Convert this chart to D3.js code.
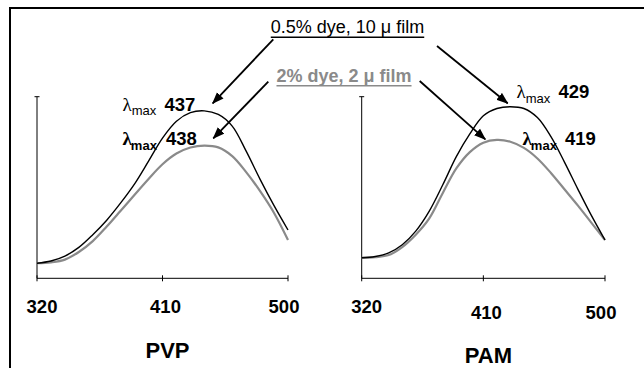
<!DOCTYPE html>
<html>
<head>
<meta charset="utf-8">
<script src="https://cdn.jsdelivr.net/npm/d3@7"></script>
<style>
  html, body { margin: 0; padding: 0; background: #fff; }
  svg { display: block; }
  text { font-family: "Liberation Sans", Arial, sans-serif; }
</style>
</head>
<body>
<svg id="chart" width="644" height="368"></svg>
<script>
// ---- data ----
const wavelengths = [320,330,340,350,360,370,380,390,400,410,420,430,440,450,460,470,480,490,500];
const pvpThickFilm = [0.083,0.095,0.122,0.17,0.24,0.32,0.415,0.52,0.645,0.772,0.865,0.912,0.922,0.902,0.838,0.70,0.545,0.40,0.266];
const pvpThinFilm  = [0.083,0.088,0.103,0.145,0.205,0.285,0.372,0.46,0.547,0.628,0.687,0.72,0.731,0.721,0.673,0.585,0.48,0.36,0.211];
const pamThickFilm = [0.113,0.12,0.14,0.185,0.26,0.37,0.515,0.67,0.795,0.895,0.935,0.945,0.935,0.885,0.78,0.64,0.49,0.345,0.211];
const pamThinFilm  = [0.113,0.117,0.128,0.172,0.24,0.33,0.47,0.605,0.695,0.747,0.762,0.752,0.718,0.66,0.58,0.49,0.40,0.305,0.211];
const tickValues = [320, 410, 500];
const panelNames = ["PVP", "PAM"];
const peakThick = ["437", "429"];
const peakThin = ["438", "419"];
const legendThick = "0.5% dye, 10 μ film";
const legendThin = "2% dye, 2 μ film";

const svg = d3.select("#chart");
const GRAY = "#8a8a8a";

// frame
svg.append("rect").attr("x", 10).attr("y", 8).attr("width", 700).attr("height", 420)
  .attr("fill", "none").attr("stroke", "#000").attr("stroke-width", 2);

const panels = [
  { name: panelNames[0], thick: pvpThickFilm, thin: pvpThinFilm, xr: [37, 288],
    labelDy: [0, 0, 0], nameY: 358, peakThick: peakThick[0], peakThin: peakThin[0],
    pk1: [122.5, 110.7, 164.5], pk2: [122.5, 145, 166] },
  { name: panelNames[1], thick: pamThickFilm, thin: pamThinFilm, xr: [361.7, 605],
    labelDy: [0, 6, 6], nameY: 363, peakThick: peakThick[1], peakThin: peakThin[1],
    pk1: [516.5, 98.3, 558.5], pk2: [522.5, 145, 565] }
];

const y = d3.scaleLinear().domain([0, 1]).range([278.3, 96.7]);

panels.forEach(p => {
  const x = d3.scaleLinear().domain([320, 500]).range(p.xr);
  const g = svg.append("g");
  // axes
  g.append("line").attr("x1", x(320)).attr("x2", x(500)).attr("y1", y(0)).attr("y2", y(0))
    .attr("stroke", "#000").attr("stroke-width", 1);
  g.append("line").attr("x1", x(320)).attr("x2", x(320)).attr("y1", y(0)).attr("y2", y(1))
    .attr("stroke", "#000").attr("stroke-width", 1);
  g.append("line").attr("x1", x(320) - 2.5).attr("x2", x(320) + 2.5).attr("y1", y(1)).attr("y2", y(1))
    .attr("stroke", "#000").attr("stroke-width", 1);
  g.selectAll(".tick").data(tickValues).join("line")
    .attr("x1", d => x(d)).attr("x2", d => x(d))
    .attr("y1", y(0) - 3).attr("y2", y(0) + 3)
    .attr("stroke", "#000").attr("stroke-width", 1);
  g.selectAll(".tl").data(tickValues).join("text")
    .attr("x", (d, i) => x(d) + [5, 3, -4][i])
    .attr("y", (d, i) => 313 + p.labelDy[i])
    .attr("text-anchor", "middle")
    .attr("font-size", 18.5).attr("font-weight", "bold")
    .text(d => d);
  g.append("text").attr("x", (x(320) + x(500)) / 2 + 5).attr("y", p.nameY)
    .attr("text-anchor", "middle").attr("font-size", 22).attr("font-weight", "bold")
    .text(p.name);

  const line = d3.line().x((d, i) => x(wavelengths[i])).y(d => y(d)).curve(d3.curveCatmullRom.alpha(0.5));
  g.append("path").attr("d", line(p.thin)).attr("fill", "none")
    .attr("stroke", GRAY).attr("stroke-width", 2.2);
  g.append("path").attr("d", line(p.thick)).attr("fill", "none")
    .attr("stroke", "#000").attr("stroke-width", 1.4);

  // peak labels
  const t1 = g.append("text").attr("x", p.pk1[0]).attr("y", p.pk1[1]);
  t1.append("tspan").attr("font-family", "'Liberation Serif', serif").attr("font-size", 19).text("λ");
  t1.append("tspan").attr("font-size", 13).attr("dy", 4.5).text("max");
  g.append("text").attr("x", p.pk1[2]).attr("y", p.pk1[1]).attr("font-size", 18.5)
    .attr("font-weight", "bold").text(p.peakThick);
  const t2 = g.append("text").attr("x", p.pk2[0]).attr("y", p.pk2[1]).attr("font-weight", "bold");
  t2.append("tspan").attr("font-family", "'Liberation Serif', serif").attr("font-size", 19).text("λ");
  t2.append("tspan").attr("font-size", 13).attr("dy", 5).attr("dx", -1).text("max");
  g.append("text").attr("x", p.pk2[2]).attr("y", p.pk2[1]).attr("font-size", 18.5)
    .attr("font-weight", "bold").text(p.peakThin);
});

// legend labels with underline
function underlined(txt, cx, by, color, weight) {
  const t = svg.append("text").attr("x", cx).attr("y", by).attr("text-anchor", "middle")
    .attr("font-size", 18).attr("font-weight", weight).attr("fill", color).text(txt);
  const w = t.node().getComputedTextLength();
  svg.append("line").attr("x1", cx - w / 2).attr("x2", cx + w / 2)
    .attr("y1", by + 4).attr("y2", by + 4).attr("stroke", color).attr("stroke-width", 1.6);
}
underlined(legendThick, 347.5, 33.3, "#000", "normal");
underlined(legendThin, 344, 81.7, GRAY, "bold");

// arrows
const defs = svg.append("defs");
defs.append("marker").attr("id", "ah").attr("markerUnits", "userSpaceOnUse")
  .attr("viewBox", "0 -5 12 10").attr("refX", 11).attr("refY", 0)
  .attr("markerWidth", 12).attr("markerHeight", 10).attr("orient", "auto")
  .append("path").attr("d", "M0,-4.5L12,0L0,4.5Z").attr("fill", "#000");
const arrows = [
  [273.3, 39.3, 212.7, 103.3],
  [268.3, 81.7, 213.3, 138.3],
  [437, 46, 507.7, 103.3],
  [419.7, 81, 485.3, 139.3]
];
svg.selectAll(".arrow").data(arrows).join("line")
  .attr("x1", d => d[0]).attr("y1", d => d[1]).attr("x2", d => d[2]).attr("y2", d => d[3])
  .attr("stroke", "#000").attr("stroke-width", 1.8).attr("marker-end", "url(#ah)");
</script>
</body>
</html>
